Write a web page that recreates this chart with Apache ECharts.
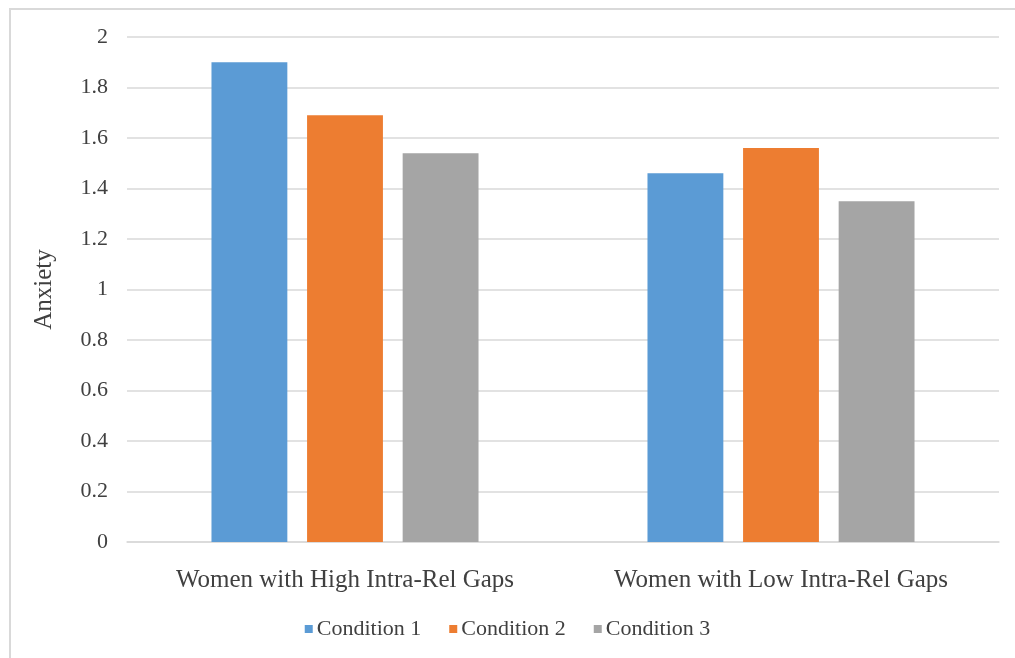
<!DOCTYPE html>
<html>
<head>
<meta charset="utf-8">
<script src="https://cdn.jsdelivr.net/npm/echarts@6/dist/echarts.min.js"></script>
<style>
  html, body { margin: 0; padding: 0; background: #ffffff; }
  #chart { width: 1015px; height: 658px; }
</style>
</head>
<body>
<div id="chart"></div>
<script>
// Mean anxiety by group and condition
const categories = ['Women with High Intra-Rel Gaps', 'Women with Low Intra-Rel Gaps'];
const condition1 = [1.90, 1.46];
const condition2 = [1.69, 1.56];
const condition3 = [1.54, 1.35];
const seriesNames = ['Condition 1', 'Condition 2', 'Condition 3'];
const colors = ['#5B9BD5', '#ED7D31', '#A5A5A5'];

const textColor = '#404040';
const fontFamily = '"Liberation Serif", "Times New Roman", serif';

const chart = echarts.init(document.getElementById('chart'), null, { renderer: 'canvas' });

const seriesData = [condition1, condition2, condition3];

chart.setOption({
  animation: false,
  backgroundColor: '#ffffff',
  color: colors,
  graphic: [{
    type: 'rect',
    shape: { x: 10, y: 9, width: 1100, height: 700 },
    style: { fill: 'none', stroke: '#D9D9D9', lineWidth: 2 },
    silent: true,
    z: -1
  }],
  grid: { left: 127, right: 16, top: 37, bottom: 116, containLabel: false },
  legend: {
    data: seriesNames,
    bottom: 13,
    left: 'center',
    itemWidth: 8,
    itemHeight: 8,
    itemGap: 28,
    icon: 'rect',
    textStyle: { color: textColor, fontFamily: fontFamily, fontSize: 22, padding: [0, 0, 0, -1] }
  },
  xAxis: {
    type: 'category',
    data: categories,
    axisLine: { show: true, lineStyle: { color: '#D9D9D9', width: 1.5 } },
    axisTick: { show: false },
    axisLabel: { color: textColor, fontFamily: fontFamily, fontSize: 25, margin: 26, interval: 0 }
  },
  yAxis: {
    type: 'value',
    min: 0,
    max: 2,
    interval: 0.2,
    name: 'Anxiety',
    nameLocation: 'middle',
    nameGap: 70,
    nameRotate: 90,
    nameTextStyle: { color: textColor, fontFamily: fontFamily, fontSize: 25 },
    axisLine: { show: false },
    axisTick: { show: false },
    splitLine: { lineStyle: { color: '#D9D9D9', width: 1.5 } },
    axisLabel: { color: textColor, fontFamily: fontFamily, fontSize: 22, margin: 19 }
  },
  series: seriesNames.map((name, i) => ({
    name: name,
    type: 'bar',
    data: seriesData[i],
    barWidth: '17.4%',
    barGap: '26%',
    itemStyle: { color: colors[i] }
  }))
});
</script>
</body>
</html>
